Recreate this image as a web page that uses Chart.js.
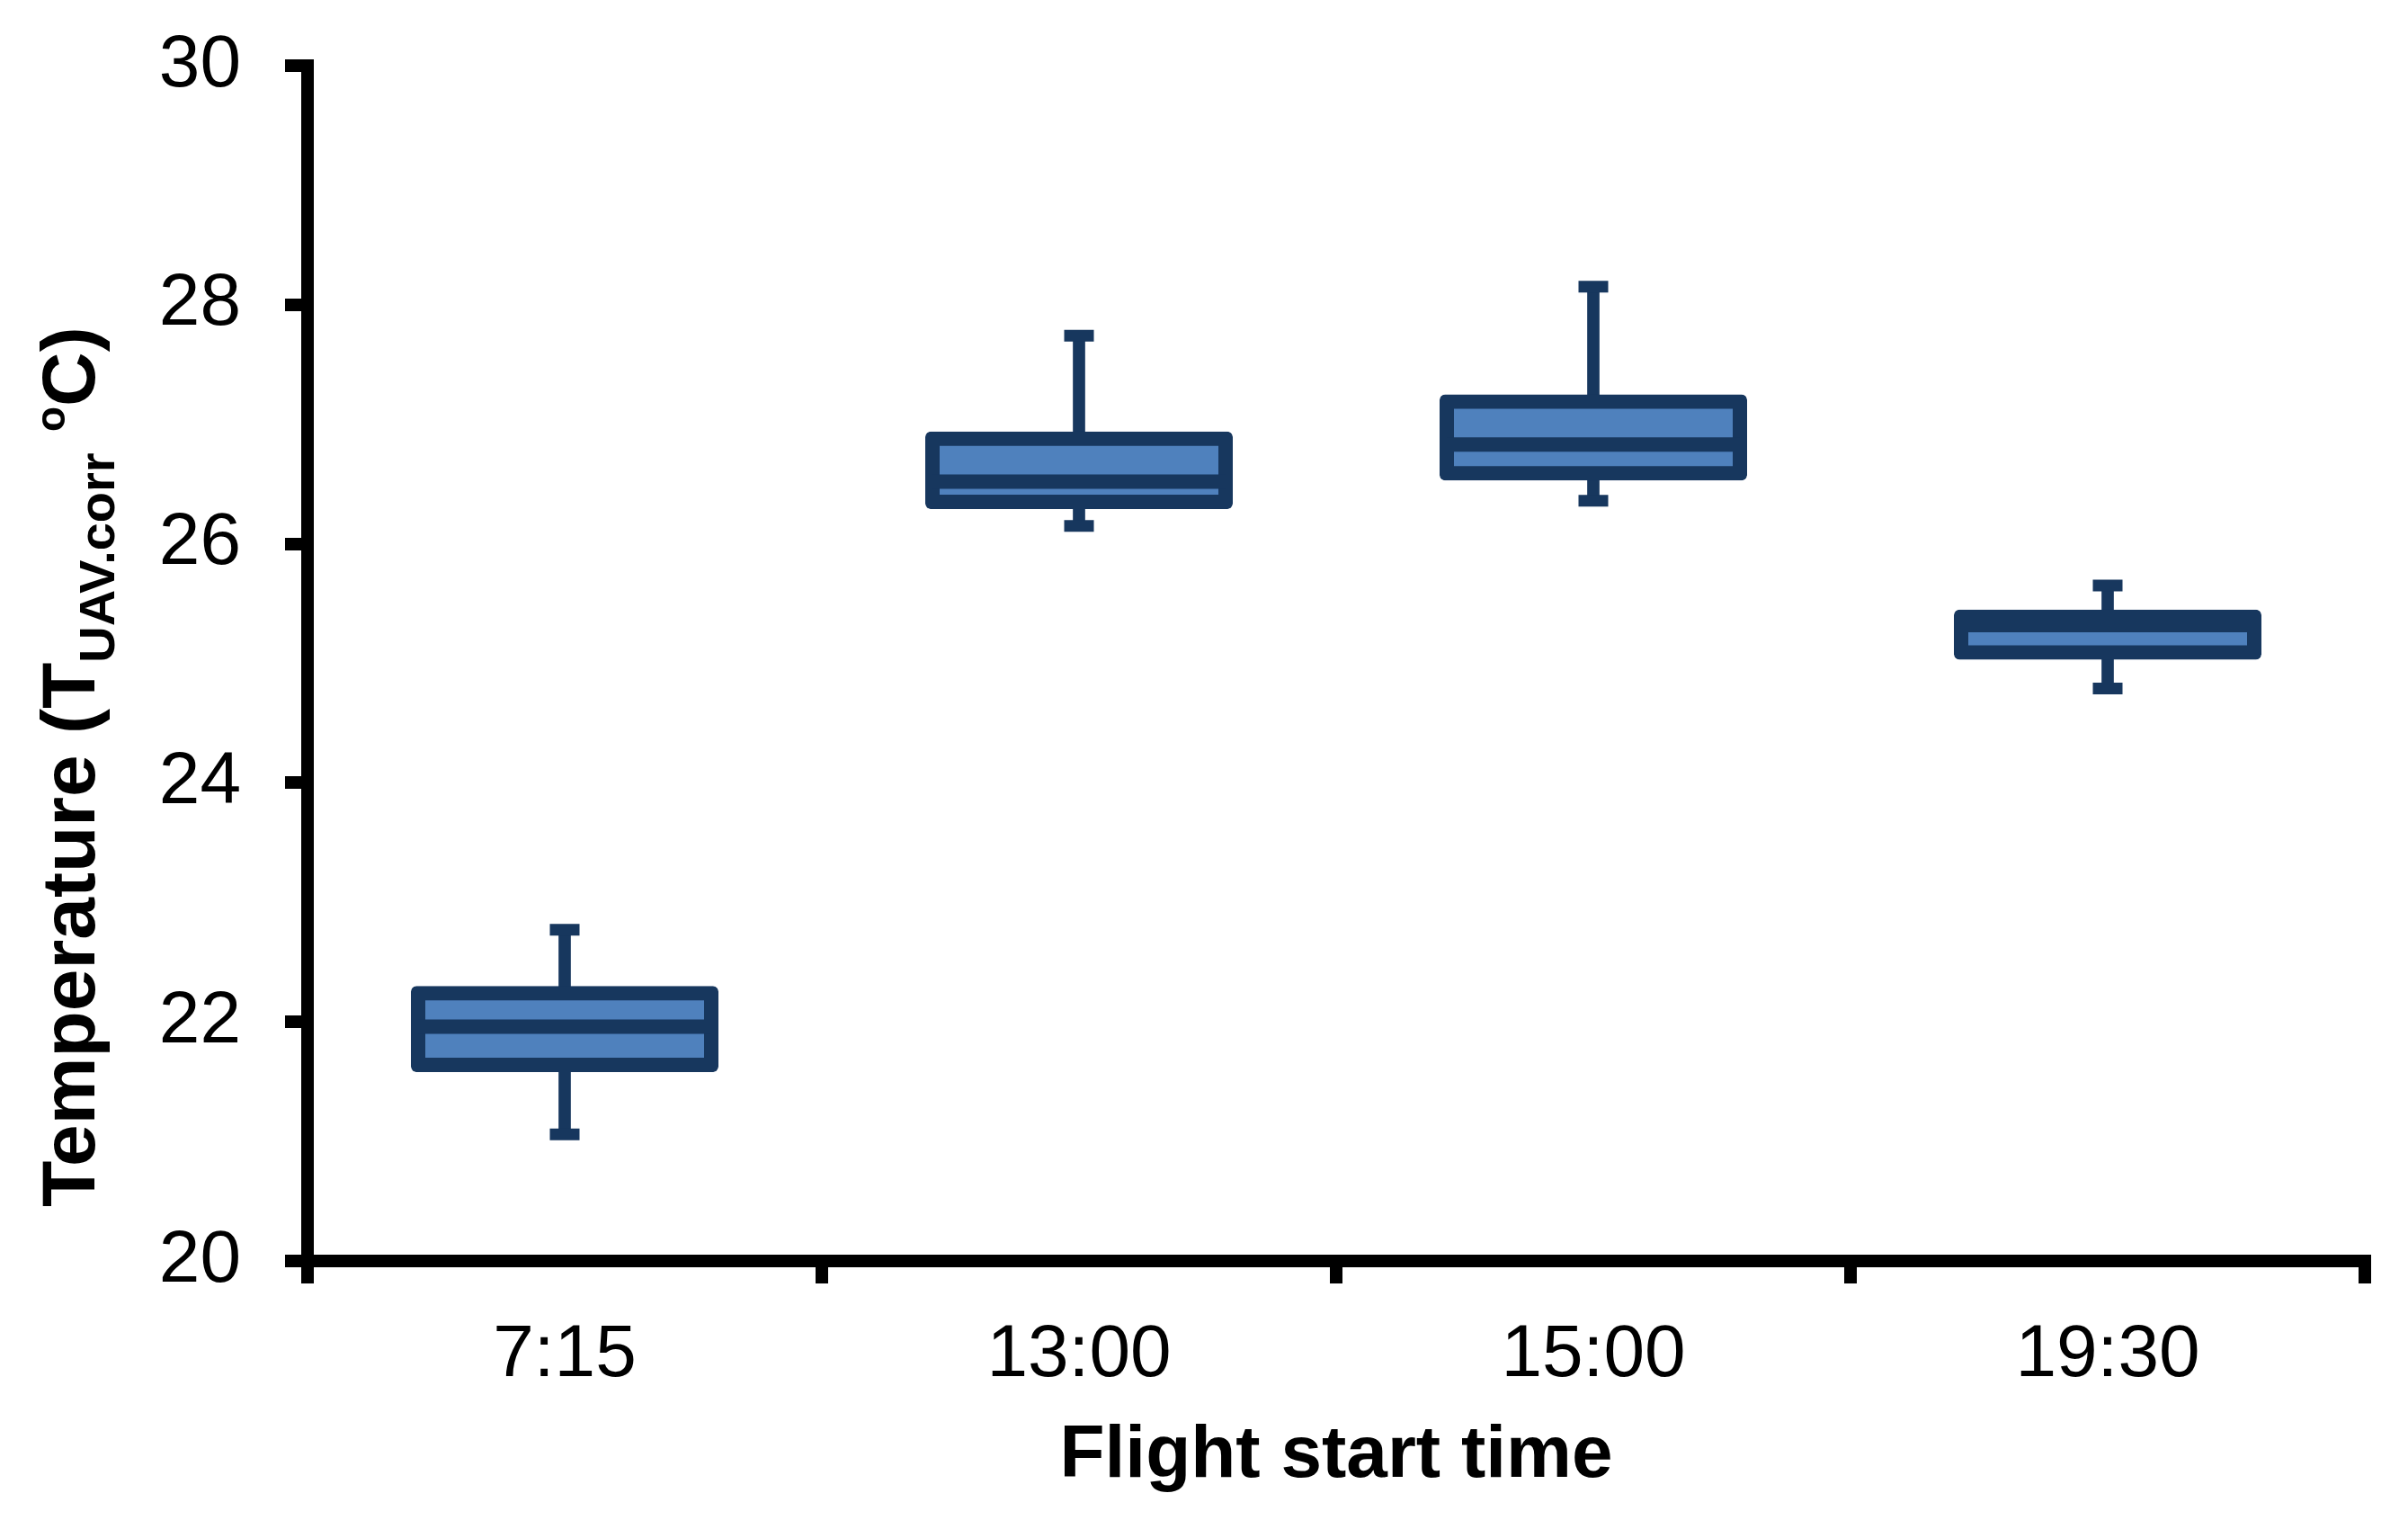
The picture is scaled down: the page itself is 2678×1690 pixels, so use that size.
<!DOCTYPE html>
<html>
<head>
<meta charset="utf-8">
<script src="https://cdn.jsdelivr.net/npm/chart.js@4/dist/chart.umd.min.js"></script>
<style>
  html, body { margin: 0; padding: 0; background: #ffffff; }
  #wrap { width: 2678px; height: 1690px; position: relative; }
</style>
</head>
<body>
<div id="wrap"><canvas id="c" width="2678" height="1690"></canvas></div>
<script>
// ---- data ----
const categories = ['7:15', '13:00', '15:00', '19:30'];
const whiskerMin = [21.06, 26.15, 26.36, 24.79];
const q1         = [21.64, 26.35, 26.59, 25.09];
const median     = [21.96, 26.52, 26.83, 25.32];
const q3         = [22.24, 26.88, 27.19, 25.39];
const whiskerMax = [22.77, 27.74, 28.15, 25.65];
const yTicks = [20, 22, 24, 26, 28, 30];
const xTitle = 'Flight start time';
const yTitleParts = ['Temperature (T', 'UAV.corr', ' ', 'o', 'C)'];

// ---- styles ----
const DARK = '#17375E';
const FILL = '#4F81BD';
const FONT = '"Liberation Sans", Arial, sans-serif';

const yTitlePlugin = {
  id: 'yTitle',
  afterDraw(chart) {
    const ctx = chart.ctx;
    ctx.save();
    ctx.translate(105, 1342);
    ctx.rotate(-Math.PI / 2);
    ctx.fillStyle = '#000';
    ctx.textAlign = 'left';
    ctx.textBaseline = 'alphabetic';
    const styles = [
      { size: 84, dy: 0 },
      { size: 56, dy: 22 },
      { size: 84, dy: 0 },
      { size: 46, dy: -33 },
      { size: 84, dy: 0 }
    ];
    let x = 0;
    yTitleParts.forEach((t, i) => {
      ctx.font = 'bold ' + styles[i].size + 'px ' + FONT;
      ctx.fillText(t, x, styles[i].dy);
      x += ctx.measureText(t).width;
    });
    ctx.restore();
  }
};

new Chart(document.getElementById('c'), {
  type: 'bar',
  data: {
    labels: categories,
    datasets: [
      {
        type: 'bar', label: 'whisker',
        data: categories.map((c, i) => [whiskerMin[i], whiskerMax[i]]),
        backgroundColor: DARK, borderWidth: 0,
        barThickness: 13, grouped: false, order: 3
      },
      {
        type: 'bar', label: 'box',
        data: categories.map((c, i) => [q1[i], q3[i]]),
        backgroundColor: FILL, borderColor: DARK, borderWidth: 16,
        borderSkipped: false, borderRadius: 6, inflateAmount: 8,
        barThickness: 326, grouped: false, order: 2
      },
      {
        type: 'line', label: 'median', data: median,
        showLine: false, pointStyle: 'line', pointRadius: 163,
        pointBorderWidth: 16, pointBorderColor: DARK, pointBackgroundColor: DARK,
        clip: false, order: 1
      },
      {
        type: 'line', label: 'max', data: whiskerMax,
        showLine: false, pointStyle: 'line', pointRadius: 16.5,
        pointBorderWidth: 13, pointBorderColor: DARK, pointBackgroundColor: DARK,
        clip: false, order: 0
      },
      {
        type: 'line', label: 'min', data: whiskerMin,
        showLine: false, pointStyle: 'line', pointRadius: 16.5,
        pointBorderWidth: 13, pointBorderColor: DARK, pointBackgroundColor: DARK,
        clip: false, order: 0
      }
    ]
  },
  options: {
    responsive: false,
    animation: false,
    devicePixelRatio: 1,
    events: [],
    layout: { autoPadding: false, padding: { left: 0, right: 48, top: 73, bottom: 0 } },
    plugins: { legend: { display: false }, tooltip: { enabled: false } },
    scales: {
      x: {
        type: 'category',
        offset: true,
        afterFit(s) { s.height = 288; s.paddingLeft = 0; s.paddingRight = 0; },
        border: { display: true, width: 14, color: '#000' },
        grid: { offset: true, drawOnChartArea: false, drawTicks: true, tickLength: 25,
                lineWidth: 14, tickWidth: 14, color: '#000', tickColor: '#000' },
        ticks: { color: '#000', padding: 31, font: { family: FONT, size: 82 } },
        title: { display: true, text: xTitle, color: '#000',
                 font: { family: FONT, size: 82, weight: 'bold' },
                 padding: { top: 0, bottom: 21 } }
      },
      y: {
        min: 20, max: 30,
        afterFit(s) { s.width = 342; s.paddingTop = 0; s.paddingBottom = 0; },
        afterBuildTicks(s) { s.ticks = yTicks.map(v => ({ value: v })); },
        border: { display: true, width: 14, color: '#000' },
        grid: { drawOnChartArea: false, drawTicks: true, tickLength: 25,
                lineWidth: 14, tickWidth: 14, color: '#000', tickColor: '#000' },
        ticks: { color: '#000', padding: 49, font: { family: FONT, size: 82 } },
        title: { display: false }
      }
    }
  },
  plugins: [yTitlePlugin]
});
</script>
</body>
</html>
